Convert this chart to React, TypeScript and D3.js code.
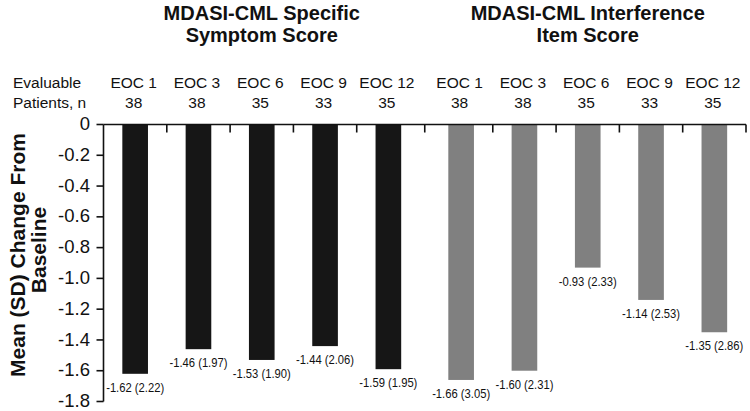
import React from "react";
import * as d3 from "d3";

// visit labels and per-group values
const categories = ["EOC 1", "EOC 3", "EOC 6", "EOC 9", "EOC 12"];
const groups = ["symptom", "interference"];
const groupTitles = [
  ["MDASI-CML Specific", "Symptom Score"],
  ["MDASI-CML Interference", "Item Score"],
];
const symptomN = [38, 38, 35, 33, 35];
const symptomMean = [-1.62, -1.46, -1.53, -1.44, -1.59];
const symptomSD = [2.22, 1.97, 1.9, 2.06, 1.95];
const interferenceN = [38, 38, 35, 33, 35];
const interferenceMean = [-1.66, -1.6, -0.93, -1.14, -1.35];
const interferenceSD = [3.05, 2.31, 2.33, 2.53, 2.86];
const yTicks = [0, -0.2, -0.4, -0.6, -0.8, -1.0, -1.2, -1.4, -1.6, -1.8];

const width = 750;
const height = 411;
const colors = { symptom: "#161616", interference: "#808080" };
const font = "'Liberation Sans', Arial, Helvetica, sans-serif";

const App = () => {
  const left = 103.5;
  const right = 746;

  const y = d3.scaleLinear().domain([0, -1.8]).range([124.5, 401.5]);

  const x0 = d3
    .scaleBand()
    .domain(groups)
    .range([left, right])
    .paddingInner(0.029);

  const x1 = d3.scaleBand().domain(categories).range([0, x0.bandwidth()]);
  const barW = x1.bandwidth() * 0.405;

  const rows = groups.map((g) => {
    const mean = g === "symptom" ? symptomMean : interferenceMean;
    const sd = g === "symptom" ? symptomSD : interferenceSD;
    const n = g === "symptom" ? symptomN : interferenceN;
    return categories.map((c, i) => ({
      group: g,
      cat: c,
      mean: mean[i],
      sd: sd[i],
      n: n[i],
      cx: (x0(g) as number) + (x1(c) as number) + x1.bandwidth() / 2,
    }));
  });

  // tick marks along the zero line: band boundaries + gap between groups + end
  const topTicks: number[] = [];
  groups.forEach((g) => {
    categories.slice(1).forEach((c) => {
      topTicks.push((x0(g) as number) + (x1(c) as number));
    });
  });
  topTicks.push(
    ((x0("symptom") as number) + x0.bandwidth() + (x0("interference") as number)) / 2
  );
  topTicks.push(right);

  const y0 = y(0);

  return (
    <div style={{ position: "fixed", left: 0, top: 0 }}>
      <svg width={width} height={height} style={{ display: "block", background: "#fff" }}>
        {/* group titles */}
        {groups.map((g, gi) => (
          <text
            key={g}
            y={19.5}
            textAnchor="middle"
            fontFamily={font}
            fontWeight="bold"
            fontSize={20}
            fill="#111"
          >
            <tspan x={(x0(g) as number) + x0.bandwidth() / 2} dy={0}>
              {groupTitles[gi][0]}
            </tspan>
            <tspan x={(x0(g) as number) + x0.bandwidth() / 2} dy={22}>
              {groupTitles[gi][1]}
            </tspan>
          </text>
        ))}

        {/* header row */}
        <text x={13} y={88} fontFamily={font} fontSize={15.5} fill="#111">
          Evaluable
        </text>
        <text x={13} y={108} fontFamily={font} fontSize={15.5} fill="#111">
          Patients, n
        </text>
        {rows.flat().map((d) => (
          <g key={d.group + d.cat}>
            <text x={d.cx - 1.5} y={88} textAnchor="middle" fontFamily={font} fontSize={15.5} fill="#111">
              {d.cat}
            </text>
            <text x={d.cx - 1.5} y={108} textAnchor="middle" fontFamily={font} fontSize={15.5} fill="#111">
              {d.n}
            </text>
          </g>
        ))}

        {/* bars */}
        {rows.flat().map((d) => (
          <rect
            key={"b" + d.group + d.cat}
            x={d.cx - barW / 2}
            y={y0}
            width={barW}
            height={y(d.mean) - y0}
            fill={colors[d.group as keyof typeof colors]}
          />
        ))}

        {/* value labels, condensed like the original */}
        {rows.flat().map((d) => (
          <text
            key={"l" + d.group + d.cat}
            x={d.cx}
            y={y(d.mean) + 18}
            textAnchor="middle"
            fontFamily={font}
            fontSize={13.5}
            textLength={58}
            lengthAdjust="spacingAndGlyphs"
            fill="#111"
          >
            {`${d.mean.toFixed(2)} (${d.sd.toFixed(2)})`}
          </text>
        ))}

        {/* y axis */}
        <line x1={left} x2={left} y1={y0} y2={y(-1.8)} stroke="#111" strokeWidth={1.6} />
        {yTicks.map((t) => (
          <g key={t}>
            <line x1={left - 7} x2={left} y1={y(t)} y2={y(t)} stroke="#111" strokeWidth={1.6} />
            <text
              x={90}
              y={y(t) - 1}
              dy="0.36em"
              textAnchor="end"
              fontFamily={font}
              fontSize={18.5}
              fill="#111"
            >
              {t === 0 ? "0" : t.toFixed(1)}
            </text>
          </g>
        ))}

        {/* zero line with ticks */}
        <line x1={left} x2={right} y1={y0} y2={y0} stroke="#111" strokeWidth={1.6} />
        {topTicks.map((tx, i) => (
          <line key={i} x1={tx} x2={tx} y1={y0} y2={y0 + 8} stroke="#111" strokeWidth={1.6} />
        ))}

        {/* y title */}
        <text
          transform="translate(25,255) rotate(-90)"
          textAnchor="middle"
          fontFamily={font}
          fontWeight="bold"
          fontSize={21}
          fill="#111"
        >
          Mean (SD) Change From
        </text>
        <text
          transform="translate(45.5,250) rotate(-90)"
          textAnchor="middle"
          fontFamily={font}
          fontWeight="bold"
          fontSize={21}
          fill="#111"
        >
          Baseline
        </text>
      </svg>
    </div>
  );
};

export default App;
